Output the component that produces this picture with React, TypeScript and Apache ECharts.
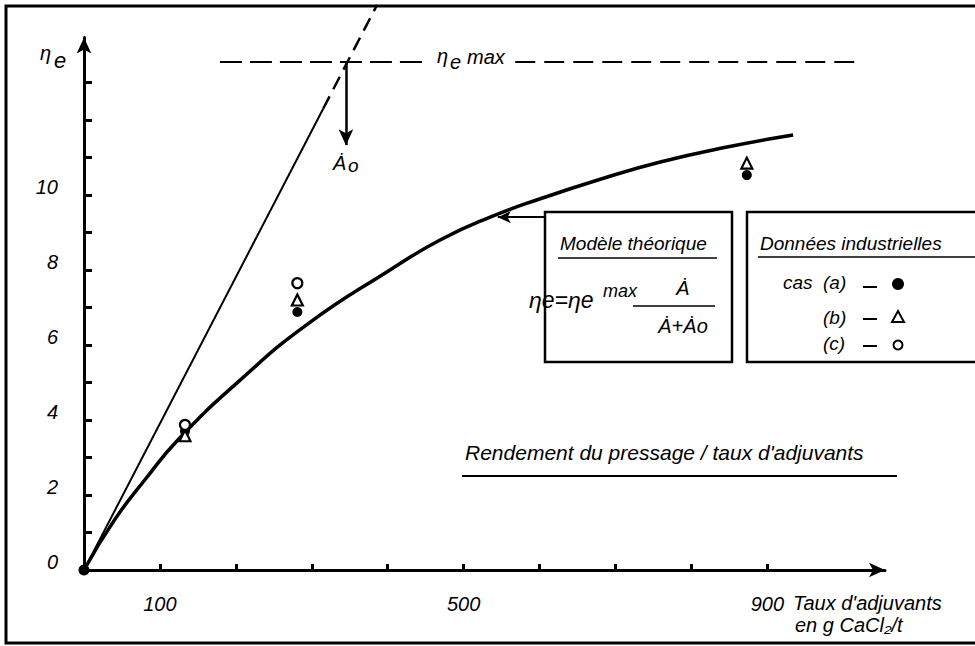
import React, { useEffect, useRef } from 'react';
import * as echarts from 'echarts';

// ---- Data ----
// x: taux d'adjuvants (g CaCl2/t) ; y: rendement du pressage ηe
const xTickValues = [100, 200, 300, 400, 500, 600, 700, 800, 900];
const xLabelValues = [100, 500, 900];
const yTickValues = [1, 2, 3, 4, 5, 6, 7, 8, 9, 10, 11, 12, 13];
const yLabelValues = [0, 2, 4, 6, 8, 10];

// theoretical model curve (hand drawn)
const curveA = [0, 40, 80, 126, 206, 294, 403, 469, 535, 601, 680, 759, 847, 934];
const curveEta = [0, 1.33, 2.4, 3.52, 5.07, 6.55, 8.0, 8.8, 9.41, 9.9, 10.42, 10.88, 11.28, 11.6];

// tangent at origin (solid part, then dashed part)
const tangentSolidA = [0, 315];
const tangentSolidEta = [0, 12.3];
const tangentDashA = [315, 386];
const tangentDashEta = [12.3, 15.07];

// ηe max and Ȧo
const etaMax = 13.55;
const etaMaxLeftA = [179, 452];
const etaMaxRightA = [568, 1021];
const A0 = 345;
const A0ArrowEndEta = 11.33;

// arrow from the "Modèle théorique" box to the curve
const modelArrowA = [607, 545];
const modelArrowEta = 9.41;

// industrial data
const casA_A = [133, 281, 873];
const casA_Eta = [3.7, 6.88, 10.53];
const casB_A = [133, 281, 873];
const casB_Eta = [3.58, 7.2, 10.85];
const casC_A = [133, 281];
const casC_Eta = [3.87, 7.65];
const originPoint = [[0, 0]];

const FONT = "'Liberation Sans', 'DejaVu Sans', Arial, sans-serif";

const zip = (xs: number[], ys: number[]) => xs.map((x, i) => [x, ys[i]]);

const txt = (x: number, y: number, text: string, size = 20, align = 'left') => ({
  type: 'text',
  x,
  y,
  silent: true,
  style: {
    text,
    fontSize: size,
    fontStyle: 'italic',
    fontFamily: FONT,
    fill: '#000',
    align,
    verticalAlign: 'middle',
  },
});

const ln = (x1: number, y1: number, x2: number, y2: number, w = 2) => ({
  type: 'line',
  silent: true,
  shape: { x1, y1, x2, y2 },
  style: { stroke: '#000', lineWidth: w },
});

const box = (x: number, y: number, w: number, h: number, lw = 2.5) => ({
  type: 'rect',
  silent: true,
  shape: { x, y, width: w, height: h },
  style: { fill: 'none', stroke: '#000', lineWidth: lw },
});

export default function App() {
  const ref = useRef<HTMLDivElement>(null);

  useEffect(() => {
    if (!ref.current) return;
    const chart = echarts.init(ref.current, null, { renderer: 'svg' });

    const lineBase = {
      type: 'line',
      symbol: 'none',
      silent: true,
      z: 3,
    };

    const option: any = {
      animation: false,
      backgroundColor: '#fff',
      grid: { left: 84, right: 90, top: 37.5, bottom: 76 },
      xAxis: {
        type: 'value',
        min: 0,
        max: 1055,
        interval: 100,
        splitLine: { show: false },
        axisLine: {
          show: true,
          lineStyle: { color: '#000', width: 3 },
          symbol: ['none', 'arrow'],
          symbolSize: [11, 16],
        },
        axisTick: {
          show: true,
          inside: true,
          length: 6,
          lineStyle: { color: '#000', width: 3 },
          customValues: xTickValues,
        },
        axisLabel: {
          customValues: xLabelValues,
          formatter: (v: number) => (xLabelValues.includes(v) ? String(v) : ''),
          color: '#000',
          fontSize: 20,
          fontStyle: 'italic',
          fontFamily: FONT,
          margin: 24,
        },
      },
      yAxis: {
        type: 'value',
        min: 0,
        max: 14.2,
        interval: 1,
        splitLine: { show: false },
        axisLine: {
          show: true,
          lineStyle: { color: '#000', width: 3 },
          symbol: ['none', 'arrow'],
          symbolSize: [11, 16],
        },
        axisTick: {
          show: true,
          inside: true,
          length: 8,
          lineStyle: { color: '#000', width: 3 },
          customValues: yTickValues,
        },
        axisLabel: {
          customValues: yLabelValues,
          formatter: (v: number) => (yLabelValues.includes(v) ? String(v) : ''),
          color: '#000',
          fontSize: 20,
          fontStyle: 'italic',
          fontFamily: FONT,
          margin: 26,
          verticalAlign: 'bottom',
          lineHeight: 16,
        },
      },
      series: [
        {
          ...lineBase,
          name: 'Modèle théorique',
          data: zip(curveA, curveEta),
          smooth: 0.5,
          lineStyle: { color: '#000', width: 3.5 },
          markLine: {
            silent: true,
            symbol: ['none', 'arrow'],
            symbolSize: [9, 13],
            label: { show: false },
            lineStyle: { color: '#000', width: 2, type: 'solid', opacity: 1 },
            data: [[{ coord: [modelArrowA[0], modelArrowEta] }, { coord: [modelArrowA[1], modelArrowEta] }]],
          },
        },
        {
          ...lineBase,
          name: 'tangente',
          data: zip(tangentSolidA, tangentSolidEta),
          lineStyle: { color: '#000', width: 2 },
        },
        {
          ...lineBase,
          name: 'tangente (pointillé)',
          clip: false,
          data: zip(tangentDashA, tangentDashEta),
          lineStyle: { color: '#000', width: 2.5, type: [14, 8] },
        },
        {
          ...lineBase,
          name: 'ηe max gauche',
          data: etaMaxLeftA.map((a) => [a, etaMax]),
          lineStyle: { color: '#000', width: 2, type: [22, 8] },
        },
        {
          ...lineBase,
          name: 'ηe max droite',
          data: etaMaxRightA.map((a) => [a, etaMax]),
          lineStyle: { color: '#000', width: 2, type: [20, 9] },
          markLine: {
            silent: true,
            symbol: ['none', 'arrow'],
            symbolSize: [11, 16],
            label: { show: false },
            lineStyle: { color: '#000', width: 2.5, type: 'solid', opacity: 1 },
            data: [[{ coord: [A0, etaMax] }, { coord: [A0, A0ArrowEndEta] }]],
          },
        },
        {
          type: 'scatter',
          name: 'cas (a)',
          data: zip(casA_A, casA_Eta),
          symbol: 'circle',
          symbolSize: 10,
          itemStyle: { color: '#000', opacity: 1 },
          silent: true,
          z: 5,
        },
        {
          type: 'scatter',
          name: '(b)',
          data: zip(casB_A, casB_Eta),
          symbol: 'triangle',
          symbolSize: 11,
          itemStyle: { color: '#fff', borderColor: '#000', borderWidth: 2.2, opacity: 1 },
          silent: true,
          z: 6,
        },
        {
          type: 'scatter',
          name: '(c)',
          data: zip(casC_A, casC_Eta),
          symbol: 'circle',
          symbolSize: 10,
          itemStyle: { color: '#fff', borderColor: '#000', borderWidth: 2.2, opacity: 1 },
          silent: true,
          z: 7,
        },
        {
          type: 'scatter',
          name: 'origine',
          data: originPoint,
          clip: false,
          symbol: 'circle',
          symbolSize: 11,
          itemStyle: { color: '#000', opacity: 1 },
          silent: true,
          z: 8,
        },
      ],
      graphic: [
        box(6, 6, 1000, 637, 3),
        // axis name ηe
        txt(40, 53, 'η', 20),
        txt(54, 60, 'e', 22),
        // ηe max label
        txt(437, 56, 'η', 20),
        txt(450, 62, 'e', 20),
        txt(467, 57, 'max', 20),
        // Ȧo label
        txt(333, 163, 'Ȧ', 20),
        txt(348, 165, 'o', 19),
        // chart title
        txt(465, 452, "Rendement du pressage / taux d'adjuvants", 21),
        ln(462, 476, 897, 476, 2),
        // x axis name
        txt(793, 603, "Taux d'adjuvants", 20),
        txt(795, 625, 'en g CaCl₂/t', 20),
        // box 1: model
        box(545, 212, 187, 150, 2.5),
        txt(560, 243, 'Modèle théorique', 19),
        ln(558, 258, 717, 258, 1.5),
        txt(529, 300, 'ηe=ηe', 23),
        txt(603, 291, 'max', 18),
        ln(633, 306, 715, 306, 1.5),
        txt(683, 288, 'Ȧ', 20, 'center'),
        txt(683, 326, 'Ȧ+Ȧo', 20, 'center'),
        // box 2: industrial data
        box(747, 212, 260, 150, 2.5),
        txt(760, 243, 'Données industrielles', 19),
        ln(758, 257, 985, 257, 1.5),
        txt(783, 282, 'cas', 19),
        txt(823, 282, '(a)', 19),
        ln(863, 287, 877, 287, 2),
        { type: 'circle', silent: true, shape: { cx: 898, cy: 284, r: 6 }, style: { fill: '#000' } },
        txt(823, 317, '(b)', 19),
        ln(863, 319, 877, 319, 2),
        {
          type: 'polygon',
          silent: true,
          shape: { points: [[898, 311], [904, 322], [892, 322]] },
          style: { fill: '#fff', stroke: '#000', lineWidth: 2 },
        },
        txt(823, 343, '(c)', 19),
        ln(863, 346, 877, 346, 2),
        { type: 'circle', silent: true, shape: { cx: 898, cy: 345, r: 4.5 }, style: { fill: '#fff', stroke: '#000', lineWidth: 2 } },
      ],
    };

    chart.setOption(option);
    return () => chart.dispose();
  }, []);

  return (
    <div
      ref={ref}
      style={{ position: 'absolute', left: 0, top: 0, width: 975, height: 646, background: '#fff' }}
    />
  );
}
